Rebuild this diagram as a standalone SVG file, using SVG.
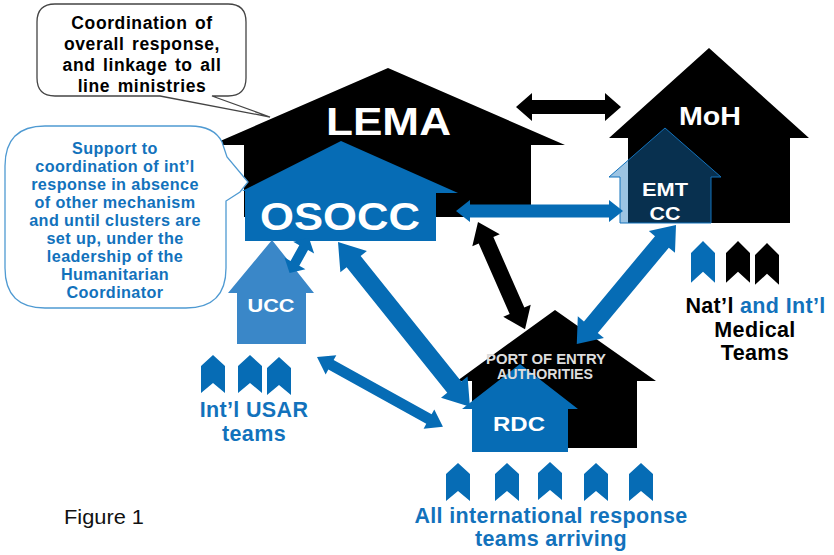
<svg xmlns="http://www.w3.org/2000/svg" xmlns:xlink="http://www.w3.org/1999/xlink" width="834" height="555" viewBox="0 0 834 555">
<style>
text{font-family:"Liberation Sans",Arial,sans-serif;font-weight:bold;text-anchor:middle}
.k{fill:#000}.b{fill:#066cb5}.w{fill:#fff}.tb{fill:#1272bc}
.c1{font-size:17.500px;word-spacing:2px;letter-spacing:.6px}
.c2{font-size:16.200px;letter-spacing:.4px}
.t{font-size:21.500px;letter-spacing:.35px}
</style>
<defs>
<path id="tag" d="M0 11 L12 0 L24 11 V38 L12 28 L0 38 Z"/>
</defs>
<rect width="834" height="555" fill="#fff"/>
<g id="lema">
<path class="k" d="M211 145 L388 68 L565 145 H531 V217 H244 V145 Z"/>
<text class="w" x="388.500" y="135" font-size="39" textLength="125" lengthAdjust="spacingAndGlyphs">LEMA</text>
</g>
<g id="callout-black">
<path d="M55 4 H228 Q246 4 246 22 V78 Q246 96 228 96 H212 L270 117 L160 96 H55 Q37 96 37 78 V22 Q37 4 55 4 Z" fill="#fff" stroke="#444" stroke-width="1.300"/>
<text class="k c1" x="142" y="29">Coordination of</text>
<text class="k c1" x="142" y="50">overall response,</text>
<text class="k c1" x="142" y="71">and linkage to all</text>
<text class="k c1" x="142" y="92">line ministries</text>
</g>
<g id="callout-blue">
<path d="M45 126 H190 Q214 126 222 142 L227 157 L248 182 L240 192 L226 201 V268 Q226 308 186 308 H45 Q5 308 5 268 V166 Q5 126 45 126 Z" fill="#fff" stroke="#4f9ad2" stroke-width="1.300"/>
<text class="tb c2" x="115" y="154">Support to</text>
<text class="tb c2" x="115" y="172">coordination of int’l</text>
<text class="tb c2" x="115" y="190">response in absence</text>
<text class="tb c2" x="115" y="208">of other mechanism</text>
<text class="tb c2" x="115" y="226">and until clusters are</text>
<text class="tb c2" x="115" y="244">set up, under the</text>
<text class="tb c2" x="115" y="262">leadership of the</text>
<text class="tb c2" x="115" y="280">Humanitarian</text>
<text class="tb c2" x="115" y="298">Coordinator</text>
</g>
<g id="osocc">
<path class="b" d="M242 191 L341 141 L458 193 L436 193 V241 H245 V191 Z"/>
<text class="w" x="340" y="230" font-size="38" textLength="160" lengthAdjust="spacingAndGlyphs">OSOCC</text>
</g>
<g id="moh">
<path class="k" d="M609 138 L709 48 L809 138 H790 V223 H628 V138 Z"/>
<text class="w" x="710" y="125" font-size="25" textLength="62" lengthAdjust="spacingAndGlyphs">MoH</text>
</g>
<g id="emt-cc">
<path d="M609 177 L665 128 L721 177 H711 V223 H620 V177 Z" fill="#1272bc" fill-opacity=".42" stroke="#1272bc" stroke-width="1"/>
<text class="w" x="665" y="196" font-size="18" textLength="46" lengthAdjust="spacingAndGlyphs">EMT</text>
<text class="w" x="665" y="220" font-size="18" textLength="31" lengthAdjust="spacingAndGlyphs">CC</text>
</g>
<g id="ucc">
<path d="M228 293 L272 240 L314 293 H306 V344 H237 V293 Z" fill="#3a87c8"/>
<text class="w" x="271" y="312" font-size="18" textLength="47" lengthAdjust="spacingAndGlyphs">UCC</text>
</g>
<g id="port-of-entry">
<path class="k" d="M457 381 L555 310 L656 381 H637 V448 H472 V381 Z"/>
</g>
<g id="rdc">
<path class="b" d="M462 409 L520 364 L578 409 H568 V452 H472 V409 Z"/>
<text class="w" x="519" y="431" font-size="21" textLength="52" lengthAdjust="spacingAndGlyphs">RDC</text>
</g>
<g id="port-label">
<text x="546" y="364" font-size="14.500" fill="#ddd" textLength="120" lengthAdjust="spacingAndGlyphs">PORT OF ENTRY</text>
<text x="545" y="379" font-size="14.500" fill="#ddd" textLength="96" lengthAdjust="spacingAndGlyphs">AUTHORITIES</text>
</g>
<g id="connectors">
<polygon class="k" transform="translate(516 107)" points="0,0 16,-14 16,-7 89,-7 89,-14 105,0 89,14 89,7 16,7 16,14"/>
<polygon class="b" transform="translate(456 211)" points="0,0 14,-11 14,-6.500 153,-6.500 153,-11 167,0 153,11 153,6.500 14,6.500 14,11"/>
<polygon class="k" transform="translate(478 222) rotate(66.300)" points="0,0 20,-15 20,-8 97,-8 97,-15 117,0 97,15 97,8 20,8 20,15"/>
<polygon class="b" transform="translate(676 225) rotate(129.800)" points="0,0 22,-17 22,-9 133,-9 133,-17 155,0 133,17 133,9 22,9 22,17"/>
<polygon class="b" transform="translate(338 242) rotate(51.300)" points="0,0 25,-17 25,-9 186,-9 186,-17 211,0 186,17 186,9 25,9 25,17"/>
<polygon class="b" transform="translate(309 238) rotate(119)" points="0,0 11,-12 11,-5 29,-5 29,-12 40,0 29,12 29,5 11,5 11,12"/>
<polygon class="b" transform="translate(317 357) rotate(29)" points="0,0 16,-11 16,-5.500 128,-5.500 128,-11 144,0 128,11 128,5.500 16,5.500 16,11"/>
</g>
<g id="tags-medical">
<use xlink:href="#tag" class="b" transform="translate(691 241) scale(1 1.100)"/>
<use xlink:href="#tag" class="k" transform="translate(726 241) scale(1 1.100)"/>
<use xlink:href="#tag" class="k" transform="translate(755 243) scale(1 1.100)"/>
<text class="t" x="755.500" y="313"><tspan class="k">Nat’l </tspan><tspan class="tb">and Int’l</tspan></text>
<text class="k t" x="755" y="337">Medical</text>
<text class="k t" x="755" y="360">Teams</text>
</g>
<g id="tags-usar">
<use xlink:href="#tag" class="b" x="201" y="355"/>
<use xlink:href="#tag" class="b" x="238" y="355"/>
<use xlink:href="#tag" class="b" x="267" y="357"/>
<text class="tb t" x="254" y="417">Int’l USAR</text>
<text class="tb t" x="254" y="441">teams</text>
</g>
<g id="tags-arriving">
<use xlink:href="#tag" class="b" x="446" y="463"/>
<use xlink:href="#tag" class="b" x="495" y="463"/>
<use xlink:href="#tag" class="b" x="538" y="462"/>
<use xlink:href="#tag" class="b" x="584" y="463"/>
<use xlink:href="#tag" class="b" x="629" y="463"/>
<text class="tb t" x="551" y="523">All international response</text>
<text class="tb t" x="551" y="546">teams arriving</text>
</g>
<text x="104" y="524" font-size="20" textLength="80" lengthAdjust="spacingAndGlyphs" style="font-weight:normal" fill="#111">Figure 1</text>
</svg>
